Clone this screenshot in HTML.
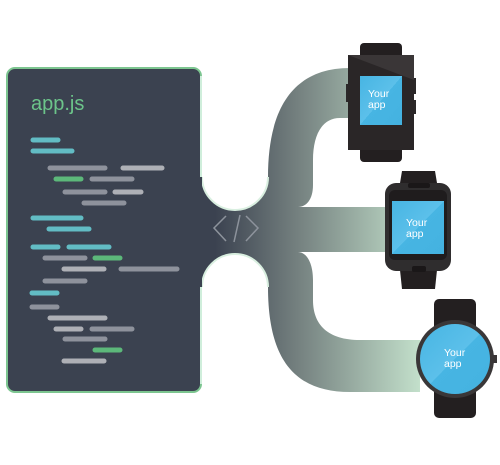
<!DOCTYPE html>
<html><head><meta charset="utf-8"><style>
html,body{margin:0;padding:0;background:#fff;}
svg{display:block;}
text{font-family:"Liberation Sans",sans-serif;}
</style></head><body>
<svg width="500" height="465" viewBox="0 0 500 465" xmlns="http://www.w3.org/2000/svg">
<defs>
<linearGradient id="flow" x1="215" y1="0" x2="420" y2="0" gradientUnits="userSpaceOnUse">
<stop offset="0" stop-color="#3b4250"/>
<stop offset="0.4" stop-color="#74807f"/>
<stop offset="1" stop-color="#c3e0cb"/>
</linearGradient>
<linearGradient id="scr" x1="0" y1="0" x2="1" y2="1">
<stop offset="0" stop-color="#47b5e3"/>
<stop offset="0.5" stop-color="#5cc0ea"/>
<stop offset="0.5" stop-color="#47b5e3"/>
<stop offset="1" stop-color="#44b2e0"/>
</linearGradient>
</defs>
<path d="M195,177 L202,177 A33,33 0 0 0 268,177 C268,110 292,68 350,68 L350,118 L340,118 C322,118 313,135 313,160 L313,185 C313,200 306,207 298,207 L390,207 L390,252 L298,252 C306,252 313,262 313,280 L313,300 C313,325 328,340 360,340 L420,340 L420,392 L350,392 C295,392 268,360 268,287 A33,33 0 0 0 202,287 L195,287 Z" fill="url(#flow)"/>
<path d="M202,177 A33,33 0 0 0 268,177 M268,287 A33,33 0 0 0 202,287" fill="none" stroke="#d9efe0" stroke-width="2"/>
<rect x="7" y="68" width="194" height="324" rx="8" fill="#3b4250" stroke="#7cc590" stroke-width="2"/>
<rect x="195" y="176" width="7" height="112" fill="#3b4250"/>
<path d="M201,76 L201,177 M201,287 L201,384" stroke="#cfeedb" stroke-width="2"/>
<text x="31" y="110" font-size="20" fill="#6cc48a">app.js</text>
<g stroke-width="5" stroke-linecap="round">
<line x1="33" y1="140" x2="58" y2="140" stroke="#62bcc4"/>
<line x1="33" y1="151" x2="72" y2="151" stroke="#62bcc4"/>
<line x1="50" y1="168" x2="105" y2="168" stroke="#8e929c"/>
<line x1="123" y1="168" x2="162" y2="168" stroke="#aeb0b6"/>
<line x1="56" y1="179" x2="81" y2="179" stroke="#5cb87a"/>
<line x1="92" y1="179" x2="132" y2="179" stroke="#8e929c"/>
<line x1="65" y1="192" x2="105" y2="192" stroke="#8e929c"/>
<line x1="115" y1="192" x2="141" y2="192" stroke="#aeb0b6"/>
<line x1="84" y1="203" x2="124" y2="203" stroke="#8e929c"/>
<line x1="33" y1="218" x2="81" y2="218" stroke="#62bcc4"/>
<line x1="49" y1="229" x2="89" y2="229" stroke="#62bcc4"/>
<line x1="33" y1="247" x2="58" y2="247" stroke="#62bcc4"/>
<line x1="69" y1="247" x2="109" y2="247" stroke="#62bcc4"/>
<line x1="45" y1="258" x2="85" y2="258" stroke="#8e929c"/>
<line x1="95" y1="258" x2="120" y2="258" stroke="#5cb87a"/>
<line x1="64" y1="269" x2="104" y2="269" stroke="#aeb0b6"/>
<line x1="121" y1="269" x2="177" y2="269" stroke="#8e929c"/>
<line x1="45" y1="281" x2="85" y2="281" stroke="#8e929c"/>
<line x1="32" y1="293" x2="57" y2="293" stroke="#62bcc4"/>
<line x1="32" y1="307" x2="57" y2="307" stroke="#8e929c"/>
<line x1="50" y1="318" x2="105" y2="318" stroke="#aeb0b6"/>
<line x1="56" y1="329" x2="81" y2="329" stroke="#aeb0b6"/>
<line x1="92" y1="329" x2="132" y2="329" stroke="#8e929c"/>
<line x1="65" y1="339" x2="105" y2="339" stroke="#8e929c"/>
<line x1="95" y1="350" x2="120" y2="350" stroke="#5cb87a"/>
<line x1="64" y1="361" x2="104" y2="361" stroke="#aeb0b6"/>
</g>
<g fill="none" stroke="#8d939c" stroke-width="1.5">
<polyline points="226,216 214,228 226,241"/>
<line x1="240" y1="215" x2="234" y2="242"/>
<polyline points="246,216 258,228 246,241"/>
</g>
<rect x="360" y="43" width="42" height="20" rx="4" fill="#231f20"/>
<rect x="360" y="140" width="42" height="22" rx="4" fill="#231f20"/>
<rect x="412" y="78" width="4" height="16" fill="#2b2829"/>
<rect x="412" y="100" width="4" height="14" fill="#2b2829"/>
<rect x="346" y="84" width="4" height="18" fill="#2b2829"/>
<rect x="348" y="55" width="66" height="95" fill="#2a2627"/>
<path d="M348,55 L414,55 L414,80 Z" fill="#3a3637"/>
<rect x="360" y="76" width="42" height="49" fill="url(#scr)"/>
<text x="368" y="97" font-size="10.5" fill="#fff">Your</text>
<text x="368" y="108" font-size="10.5" fill="#fff">app</text>
<path d="M400,183 L402,171 L435,171 L437,183 Z" fill="#231f20"/>
<path d="M400,270 L402,289 L435,289 L437,270 Z" fill="#231f20"/>
<rect x="385" y="183" width="66" height="88" rx="11" fill="#2f2d2e"/>
<rect x="389" y="190" width="58" height="70" rx="6" fill="#1f1c1d"/>
<rect x="408" y="183" width="22" height="5" rx="2" fill="#1a1718"/>
<rect x="412" y="266" width="14" height="6" rx="2" fill="#1a1718"/>
<rect x="392" y="201" width="52" height="53" fill="url(#scr)"/>
<text x="406" y="226" font-size="10.5" fill="#fff">Your</text>
<text x="406" y="237" font-size="10.5" fill="#fff">app</text>
<rect x="434" y="299" width="42" height="119" rx="5" fill="#231f20"/>
<rect x="493" y="355" width="4" height="8" fill="#3a3637"/>
<circle cx="455" cy="359" r="39" fill="#3a3738"/>
<circle cx="455" cy="359" r="35" fill="url(#scr)"/>
<text x="444" y="356" font-size="10.5" fill="#fff">Your</text>
<text x="444" y="367" font-size="10.5" fill="#fff">app</text>
</svg>
</body></html>
